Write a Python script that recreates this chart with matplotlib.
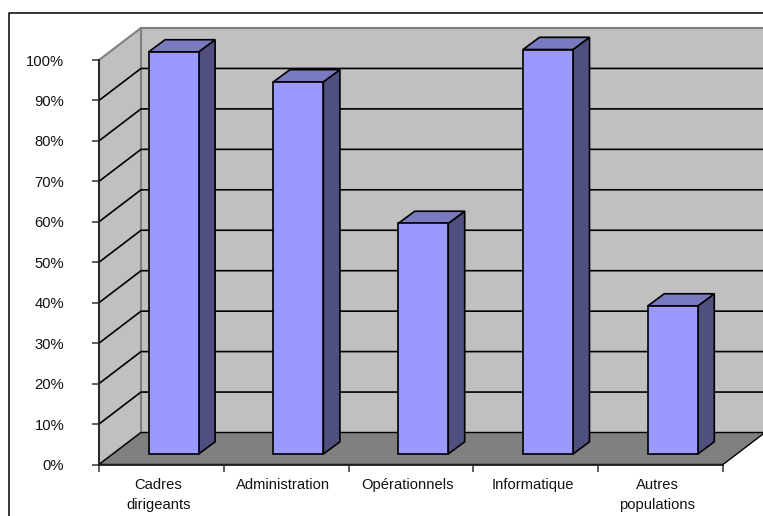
import matplotlib
matplotlib.use("Agg")
import matplotlib.pyplot as plt
from matplotlib.lines import Line2D
from matplotlib.patches import Polygon

plt.rcParams['font.family'] = ['Liberation Sans', 'DejaVu Sans']

categories = ['Cadres\ndirigeants', 'Administration', 'Opérationnels', 'Informatique', 'Autres\npopulations']
values = [99.4, 92, 57, 100, 36.6]
yticks = [0, 10, 20, 30, 40, 50, 60, 70, 80, 90, 100]

W, H = 763, 516
fig = plt.figure(figsize=(W / 100, H / 100), dpi=100)

# plot box in pixels: front of the floor and the left edge of the side wall
left, right, base, top = 99, 723, 464.5, 60
ax = fig.add_axes([left / W, (H - base) / H, (right - left) / W, (base - top) / H])
ax.set_xlim(0, len(categories))
ax.set_ylim(0, 100)
ax.patch.set_visible(False)

# pixel sizes turned into axis units for the fake 3d depth
ux = (right - left) / len(categories)
uy = (base - top) / 100
depth_x, depth_y = 42 / ux, 32 / uy
bar_w = 50 / ux
bar_shift = 12.2 / ux
bar_floor = 10.5 / uy
bar_dx, bar_dy = 16.5 / ux, 12.2 / uy

wall = '#c0c0c0'
edge = '#808080'
xmax = len(categories)
lw = 1.2

ax.add_patch(Polygon([(depth_x, depth_y), (xmax + depth_x, depth_y), (xmax + depth_x, 100 + depth_y), (depth_x, 100 + depth_y)],
                     fc=wall, ec=edge, lw=1.5, clip_on=False, zorder=1))
ax.add_patch(Polygon([(0, 0), (depth_x, depth_y), (depth_x, 100 + depth_y), (0, 100)],
                     fc=wall, ec=edge, lw=1.5, clip_on=False, zorder=1))
ax.add_patch(Polygon([(0, 0), (xmax, 0), (xmax + depth_x, depth_y), (depth_x, depth_y)],
                     fc=edge, ec='k', lw=1, clip_on=False, zorder=1.5))

# gridlines run across the side wall and then along the back wall
for t in yticks[1:-1]:
    ax.plot([0, depth_x, xmax + depth_x], [t, t + depth_y, t + depth_y], color='k', lw=lw,
            clip_on=False, zorder=2)

for i, v in enumerate(values):
    x0 = i + 0.5 + bar_shift - bar_w / 2
    x1 = x0 + bar_w
    y0 = bar_floor
    y1 = bar_floor + v
    ax.bar(x0, v, width=bar_w, bottom=y0, align='edge', color='#9999ff', edgecolor='k', lw=lw,
           clip_on=False, zorder=4)
    ax.add_patch(Polygon([(x1, y0), (x1 + bar_dx, y0 + bar_dy), (x1 + bar_dx, y1 + bar_dy), (x1, y1)],
                         fc='#4f4f80', ec='k', lw=lw, clip_on=False, zorder=3))
    ax.add_patch(Polygon([(x0, y1), (x1, y1), (x1 + bar_dx, y1 + bar_dy), (x0 + bar_dx, y1 + bar_dy)],
                         fc='#7a7ac0', ec='k', lw=lw, clip_on=False, zorder=3))

for s in ['top', 'right']:
    ax.spines[s].set_visible(False)
for s in ['left', 'bottom']:
    ax.spines[s].set_color('#222222')
    ax.spines[s].set_linewidth(1.3)
    ax.spines[s].set_zorder(5)

ax.set_yticks(yticks)
ax.set_yticklabels([f'{t}%' for t in yticks])
ax.tick_params(axis='y', length=5, width=1.1, color='#333333', pad=20, labelsize=10.6, labelcolor='#111111')

# ticks sit between categories, labels roughly in the middle of each slot
ax.set_xticks(range(len(categories) + 1))
ax.set_xticklabels([])
ax.set_xticks([i + 0.475 for i in range(len(categories))], minor=True)
ax.set_xticklabels(categories, minor=True, linespacing=1.5)
ax.tick_params(axis='x', which='major', length=5, width=1.1, color='#333333')
ax.tick_params(axis='x', which='minor', length=0, pad=10, labelsize=10.6, labelcolor='#111111')

# chart area border, only top and left fall inside the image
fig.add_artist(Line2D([9 / W, 9 / W, 1], [0, 1 - 12.5 / H, 1 - 12.5 / H], color='k', lw=1.1))

fig.savefig('out.png', dpi=100)
